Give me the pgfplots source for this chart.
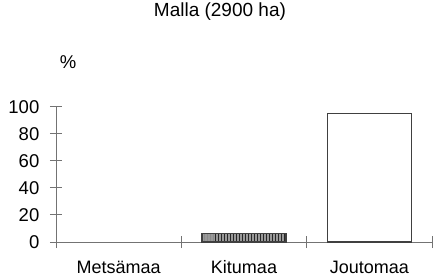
\documentclass[border=0pt]{standalone}
\usepackage{fontspec}
\setmainfont{Liberation Sans}
\usepackage{pgfplots}
\pgfplotsset{compat=1.18}
\usetikzlibrary{patterns}
\begin{document}
\begin{tikzpicture}
\useasboundingbox (-56bp,-37bp) rectangle (381bp,242bp);
\begin{axis}[
  scale only axis, width=376bp, height=135.3bp,
  xmin=0.5, xmax=3.5, ymin=0, ymax=100,
  axis lines=left,
  axis line style={-, black!55, line width=0.9bp},
  xtick={1,2,3}, xticklabels={Metsämaa,Kitumaa,Joutomaa},
  major x tick style={draw=none},
  minor xtick={0.5,1.5,2.5,3.5},
  ytick={0,20,...,100},
  tick align=center, major tick length=12bp, minor tick length=12bp,
  every tick/.style={black!55, line width=0.9bp},
  /pgf/number format/assume math mode=true,
  yticklabel style={font=\fontsize{18.5bp}{22bp}\selectfont, anchor=east, inner sep=0pt, xshift=-10.5bp},
  xticklabel style={font=\fontsize{18bp}{22bp}\selectfont, anchor=base, inner sep=0pt, yshift=-25bp},
  title={Malla (2900 ha)},
  title style={at={(axis description cs:0.436,1.656)}, anchor=center, font=\fontsize{19bp}{22bp}\selectfont},
  ylabel={\%},
  ylabel style={rotate=-90, at={(axis description cs:0.032,1.33)}, anchor=center, font=\fontsize{18.5bp}{22bp}\selectfont},
  clip=false,
]
\addplot[ybar, bar width=84bp, draw=black!75, line width=1.2bp, fill=black!40,
  postaction={pattern=vertical lines, pattern color=black!85}] coordinates {(2,6)};
\addplot[ybar, bar width=84bp, draw=black!75, line width=1.3bp, fill=white] coordinates {(3,95)};
\end{axis}
\end{tikzpicture}
\end{document}
